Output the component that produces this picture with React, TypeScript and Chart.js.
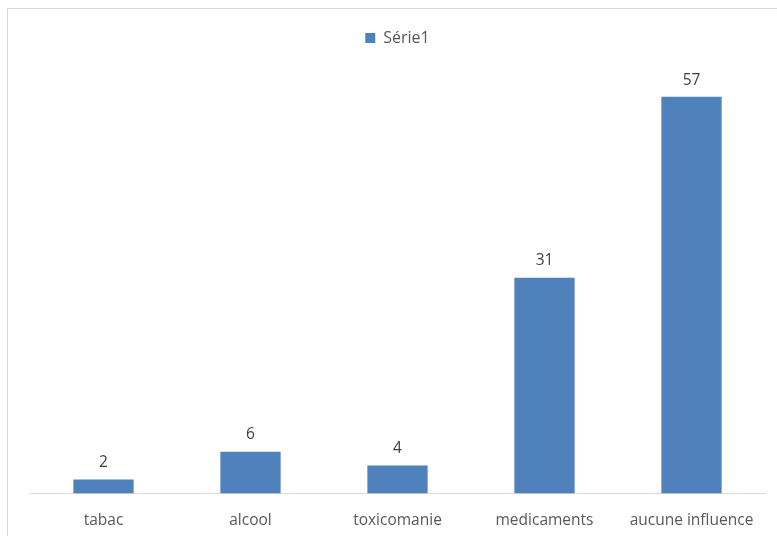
import React, { useEffect, useRef } from "react";
import { Chart, registerables } from "chart.js";

Chart.register(...registerables);

const categories = ["tabac", "alcool", "toxicomanie", "medicaments", "aucune influence"];
const seriesName = "Série1";
const values = [2, 6, 4, 31, 57];
const yMax = 60;

const FONT = "'Open Sans', 'Liberation Sans', sans-serif";

const dataLabelPlugin = {
  id: "dataLabels",
  afterDatasetsDraw(chart: any) {
    const ctx = chart.ctx;
    const meta = chart.getDatasetMeta(0);
    ctx.save();
    ctx.fillStyle = "#404040";
    ctx.font = `15.5px ${FONT}`;
    ctx.textAlign = "center";
    ctx.textBaseline = "bottom";
    meta.data.forEach((bar: any, i: number) => {
      ctx.fillText(String(chart.data.datasets[0].data[i]), bar.x, bar.y - 9);
    });
    ctx.restore();
  },
};

const legendSpacer = {
  id: "legendSpacer",
  beforeLayout(chart: any) {
    const legend = chart.legend;
    if (legend && !legend._spaced) {
      const orig = legend.fit;
      legend.fit = function () {
        orig.call(this);
        this.height += 20;
      };
      legend._spaced = true;
    }
  },
};

export default function App() {
  const ref = useRef<HTMLCanvasElement | null>(null);
  useEffect(() => {
    if (!ref.current) return;
    const chart = new Chart(ref.current, {
      type: "bar",
      data: {
        labels: categories,
        datasets: [
          {
            label: seriesName,
            data: values,
            backgroundColor: "#4F81BD",
            borderWidth: 0,
            barPercentage: 0.41,
            categoryPercentage: 1,
          },
        ],
      },
      options: {
        animation: false,
        responsive: false,
        maintainAspectRatio: false,
        layout: { padding: { left: 22, right: 12, top: 1, bottom: 0 } },
        plugins: {
          legend: {
            display: true,
            position: "top",
            labels: {
              boxWidth: 10,
              boxHeight: 10,
              color: "#595959",
              font: { family: FONT, size: 16 },
              padding: 20,
            },
          },
          tooltip: { enabled: false },
        },
        scales: {
          x: {
            grid: { display: false },
            border: { display: true, color: "#d9d9d9", width: 1 },
            ticks: { color: "#595959", font: { family: FONT, size: 15.5 }, padding: 10, maxRotation: 0 },
          },
          y: { display: false, min: 0, max: yMax },
        },
      },
      plugins: [dataLabelPlugin, legendSpacer],
    });
    return () => chart.destroy();
  }, []);
  return (
    <div
      style={{
        position: "absolute",
        left: 7,
        top: 8,
        width: 800,
        height: 560,
        border: "1px solid #d9d9d9",
        boxSizing: "border-box",
        background: "#fff",
      }}
    >
      <canvas ref={ref} width={769} height={531} style={{ display: "block" }} />
    </div>
  );
}
